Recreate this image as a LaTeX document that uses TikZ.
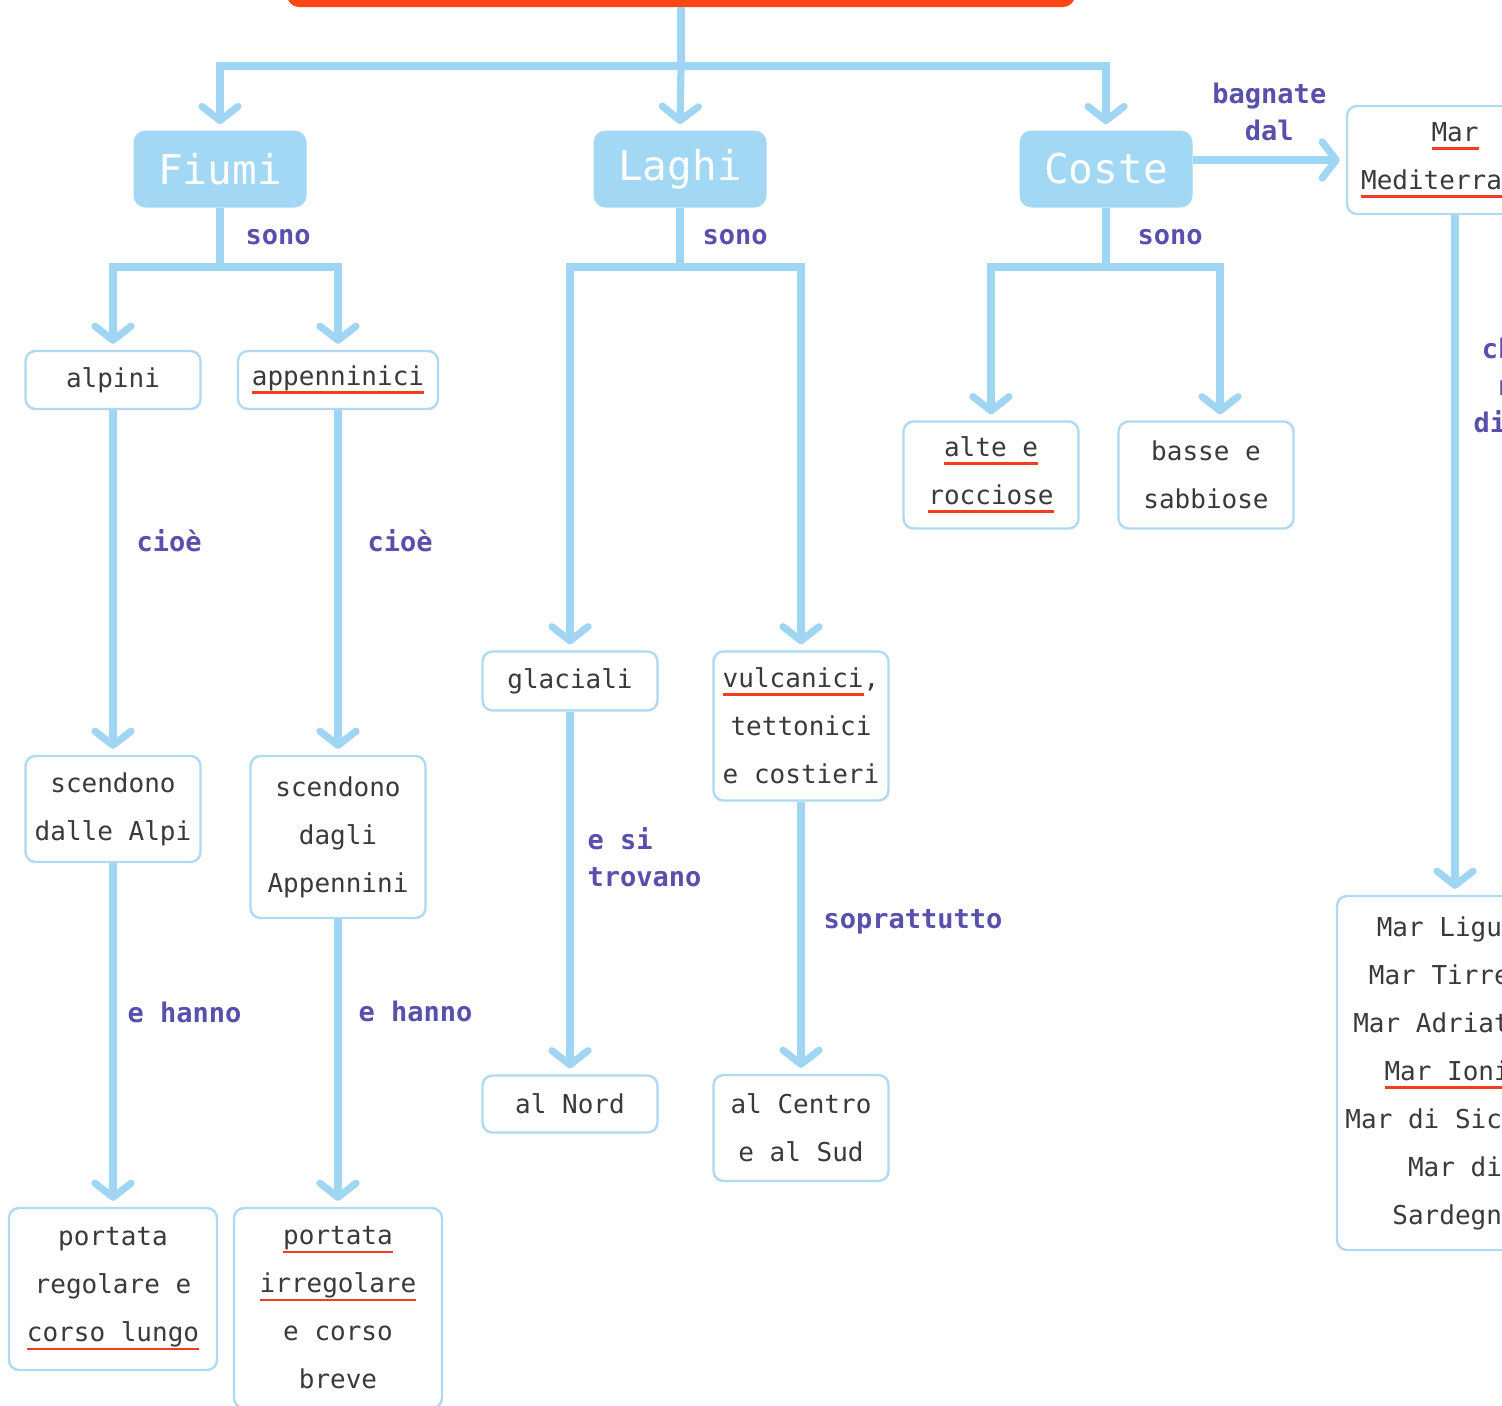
\documentclass[tikz,border=0pt]{standalone}
\usepackage{fontspec}
\setmonofont{DejaVu Sans Mono}
\usetikzlibrary{
  arrows.meta,
  positioning,
}
\definecolor{lineblue}{RGB}{160,213,243}
\definecolor{headblue}{RGB}{163,216,245}
\definecolor{boxblue}{RGB}{175,218,242}
\definecolor{labpurple}{RGB}{88,80,172}
\definecolor{txtgray}{RGB}{58,58,58}
\definecolor{titred}{RGB}{255,70,20}
\definecolor{ulred}{RGB}{242,62,30}
\newcommand{\boxfont}{\ttfamily\fontsize{13}{24}\selectfont}
\newcommand{\labfont}{\ttfamily\bfseries\fontsize{13.5}{18.5}\selectfont}
\newcommand{\headfont}{\ttfamily\fontsize{20.5}{24}\selectfont}
\newcommand{\redul}[1]{\setbox0\hbox{#1}\leavevmode\rlap{\textcolor{ulred}{\rule[-4.2pt]{\wd0}{1.4pt}}}\box0}
\tikzset{
  box/.style={
    draw=boxblue, line width=1.2pt, rounded corners=5pt, fill=white,
    text=txtgray, font=\boxfont, align=center, inner sep=0pt,
    minimum width=87.5pt,
  },
  head/.style={
    fill=headblue, rounded corners=6pt, text=white, font=\headfont,
    minimum width=86.5pt, minimum height=38.5pt,
  },
  titlebar/.style={
    fill=titred, rounded corners=6pt, minimum width=394pt, minimum height=40pt,
  },
  link/.style={draw=lineblue, line width=3.6pt},
  arr/.style={link, -{Straight Barb[round, length=7pt, width=18pt]}, shorten >=3pt},
  lab/.style={text=labpurple, font=\labfont, inner sep=0pt, align=left},
}

\begin{document}
\begin{tikzpicture}[x=0.5pt, y=-0.5pt]
  \useasboundingbox (0,0) rectangle (1502,1405);
  \clip (0,0) rectangle (1502,1405);
  \fill[white] (0,0) rectangle (1502,1405);
  \node[titlebar](Tit) at (681,-33){};
  %%
  \node[head](Fiu) at (220,169){Fiumi};
  \node[head](Lag) at (680,169){Laghi};
  \node[head](Cos) at (1106,169){Coste};
  %%
  \node[box, minimum height=29pt](Alp) at (113,380){alpini};
  \node[box, minimum width=100pt, minimum height=29pt](App) at (338,380){\redul{appenninici}};
  \node[box, minimum height=53pt](ScAl) at (113,809){scendono\\dalle Alpi};
  \node[box, minimum height=81pt](ScAp) at (338,837){scendono\\dagli\\Appennini};
  \node[box, minimum width=104pt, minimum height=81pt](PoRe) at (113,1289){portata\\regolare e\\\redul{corso lungo}};
  \node[box, minimum width=104pt, minimum height=100pt](PoIr) at (338,1308){\redul{portata}\\\redul{irregolare}\\e corso\\breve};
  %%
  \node[box, minimum height=29.5pt](Gla) at (570,681){glaciali};
  \node[box, minimum height=74.5pt](Vul) at (801,726){\redul{vulcanici},\\tettonici\\e costieri};
  \node[box, minimum height=28.5pt](Nord) at (570,1104){al Nord};
  \node[box, minimum height=53pt](CeSu) at (801,1128){al Centro\\e al Sud};
  %%
  \node[box, minimum height=53.5pt](Alte) at (991,475){\redul{alte e}\\\redul{rocciose}};
  \node[box, minimum height=53.5pt](Bas) at (1206,475){basse e\\sabbiose};
  \node[box, minimum width=108pt, minimum height=54pt](Med) at (1455,160){\redul{Mar}\\\redul{Mediterraneo}};
  \node[box, minimum width=118pt, minimum height=177pt](Mari) at (1455,1073){Mar Ligure\\Mar Tirreno\\Mar Adriatico\\\redul{Mar Ionio}\\Mar di Sicilia\\Mar di\\Sardegna};
  %%
  \coordinate (Top) at (681,66);
  \draw[link](Tit.south) -- (Top);
  \draw[arr](Top) -| (Fiu.north);
  \draw[arr](Top) -- (Lag.north);
  \draw[arr](Top) -| (Cos.north);
  %%
  \coordinate (FiuJ) at (Fiu.south |- 0,267);
  \draw[link](Fiu.south) -- node[lab, right=11pt]{sono} (FiuJ);
  \draw[arr](FiuJ) -| (Alp.north);
  \draw[arr](FiuJ) -| (App.north);
  \draw[arr](Alp.south) -- node[lab, pos=.38, right=10pt]{cioè} (ScAl.north);
  \draw[arr](App.south) -- node[lab, pos=.38, right=13pt]{cioè} (ScAp.north);
  \draw[arr](ScAl.south) -- node[lab, pos=.435, right=5.5pt]{e hanno} (PoRe.north);
  \draw[arr](ScAp.south) -- node[lab, pos=.32, right=8.5pt]{e hanno} (PoIr.north);
  %%
  \coordinate (LagJ) at (Lag.south |- 0,267);
  \draw[link](Lag.south) -- node[lab, right=9.5pt]{sono} (LagJ);
  \draw[arr](LagJ) -| (Gla.north);
  \draw[arr](LagJ) -| (Vul.north);
  \draw[arr](Gla.south) -- node[lab, pos=.40, right=7pt]{e si\\trovano} (Nord.north);
  \draw[arr](Vul.south) -- node[lab, pos=.44, right=9.5pt]{soprattutto} (CeSu.north);
  %%
  \coordinate (CosJ) at (Cos.south |- 0,267);
  \draw[link](Cos.south) -- node[lab, right=14pt]{sono} (CosJ);
  \draw[arr](CosJ) -| (Alte.north);
  \draw[arr](CosJ) -| ([xshift=7pt]Bas.north);
  \draw[arr](Cos.east |- Med.west) -- node[lab, above=8pt, align=center]{bagnate\\dal} (Med.west);
  \draw[arr](Med.south) -- node[lab, pos=.25, right=7.5pt, align=center]{che ha\\nomi\\diversi} (Mari.north);
\end{tikzpicture}
\end{document}
